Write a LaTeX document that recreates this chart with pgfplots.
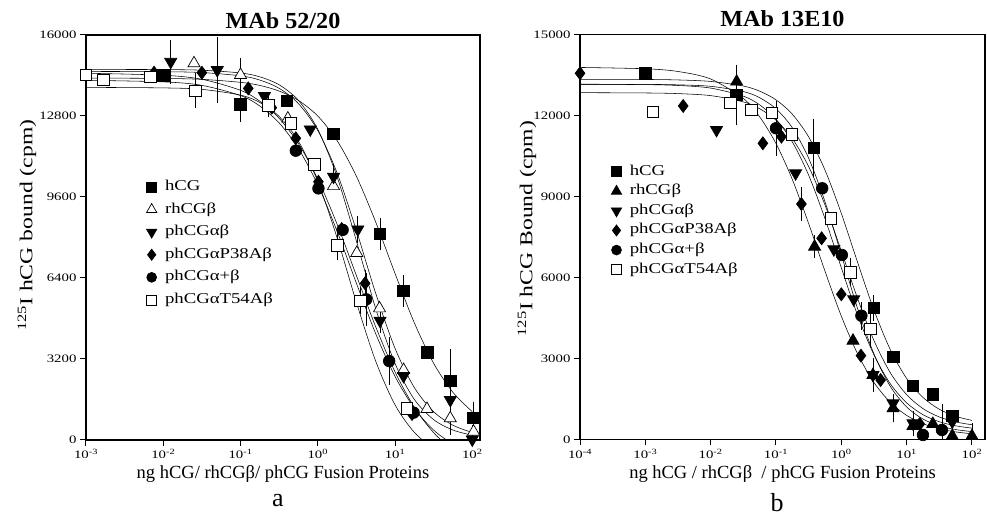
\documentclass[border=0pt]{standalone}
\usepackage{pgfplots}
\pgfplotsset{compat=1.18}
\usepackage{fontspec}
\setmainfont{Liberation Serif}
\newfontfamily\wf{Liberation Serif}[FakeStretch=1.3]
\newfontfamily\lf{Liberation Serif}[FakeStretch=1.25]
\newfontfamily\tf{Liberation Serif}[FakeStretch=1.05]
\newcommand\tl[1]{\mbox{\fontsize{11.4}{12}\wf #1}}

\pgfplotsset{
  myfit/.style={black, line width=0.55pt, smooth, no markers, forget plot},
  mypt/.style={only marks, black, line width=0.7pt,
    error bars/y dir=both, error bars/y explicit,
    error bars/error bar style={line width=0.8pt, black},
    error bars/error mark options={mark size=6pt, line width=0.8pt, black},
    legend image code/.code={\path (-5pt,0pt) (12pt,0pt);
      \draw[##1, every mark/.append style={scale=0.85}] plot coordinates {(0pt,0pt)};}},
  mysq/.style={mark=square*, mark size=5.8pt, mark options={fill=black}},
  myosq/.style={mark=square*, mark size=5.8pt, mark options={fill=white}},
  mytri/.style={mark=triangle*, mark size=7pt, mark options={fill=black}},
  myotri/.style={mark=triangle*, mark size=7pt, mark options={fill=white}},
  mydtri/.style={mark=triangle*, mark size=7pt, mark options={fill=black, rotate=180}},
  mydia/.style={mark=diamond*, mark size=6.5pt, mark options={fill=black}},
  mycirc/.style={mark=*, mark size=5.8pt, mark options={fill=black}},
}

\begin{document}
\begin{tikzpicture}
\path (0,0) rectangle (987pt,518pt);

% ---- panel a
\begin{axis}[scale only axis, xmode=log, ymin=0, scaled y ticks=false,
  tick align=outside, xtick pos=bottom, ytick pos=left,
  major tick length=6pt, xminorticks=false, yminorticks=false,
  axis line style={line width=1.1pt},
  major tick style={line width=1pt, black},
  title style={font=\fontsize{23}{24}\tf\bfseries, yshift=-3pt},
  xlabel style={font=\fontsize{18.5}{20}\selectfont},
  ylabel style={font=\fontsize{18.2}{20}\wf, at={(axis description cs:-0.15,0.53)}, anchor=center},
  legend style={draw=none, fill=none, font=\fontsize{15}{16}\lf, row sep=6.6pt,
    nodes={text height=10.5pt, text depth=3.5pt, inner sep=1pt},
    at={(0.145,0.65)}, anchor=north west},
  legend cell align=left,
  at={(86pt,78pt)}, anchor=south west, width=394pt, height=405pt,
  xmin=0.001, xmax=125.9, ymax=16000,
  xtick={0.001,0.01,0.1,1,10,100},
  xticklabels={\tl{10\textsuperscript{-3}},\tl{10\textsuperscript{-2}},\tl{10\textsuperscript{-1}},\tl{10\textsuperscript{0}},\tl{10\textsuperscript{1}},\tl{10\textsuperscript{2}}},
  ytick={0,3200,6400,9600,12800,16000},
  yticklabels={\tl{0},\tl{3200},\tl{6400},\tl{9600},\tl{12800},\tl{16000}},
  title={MAb 52/20},
  xlabel={ng hCG/ rhCGβ/ phCG Fusion Proteins},
  ylabel={\textsuperscript{125}I hCG bound (cpm)}]

\addplot[myfit] coordinates {(0.001,14300) (0.01,14283) (0.0316,14247) (0.1,14130) (0.178,14007) (0.316,13785) (0.562,13415) (1,12800) (1.778,11830) (3.162,10420) (5.623,8610) (10,6580) (17.78,4630) (31.62,3030) (56.23,1880) (100,1120)};
\addplot[myfit] coordinates {(0.001,14640) (0.01,14633) (0.0316,14608) (0.1,14500) (0.178,14347) (0.316,14034) (0.562,13416) (1,12274) (1.778,10402) (3.162,7866) (5.623,5191) (10,3021) (17.78,1604) (31.62,805) (56.23,392) (100,188)};
\addplot[myfit] coordinates {(0.001,14560) (0.01,14549) (0.0316,14516) (0.1,14387) (0.178,14219) (0.316,13895) (0.562,13290) (1,12230) (1.778,10550) (3.162,8279) (5.623,5792) (10,3622) (17.78,2072) (31.62,1118) (56.23,583) (100,298)};
\addplot[myfit] coordinates {(0.001,14489) (0.01,14410) (0.0316,14250) (0.1,13815) (0.178,13383) (0.316,12711) (0.562,11710) (1,10310) (1.778,8527) (3.162,6500) (5.623,4473) (10,2690) (17.78,1292) (31.62,289) (56.23,-385) (100,-816)};
\addplot[myfit] coordinates {(0.001,14210) (0.01,14148) (0.0316,14010) (0.1,13607) (0.178,13193) (0.316,12526) (0.562,11514) (1,10080) (1.778,8248) (3.162,6195) (5.623,4199) (10,2514) (17.78,1254) (31.62,391) (56.23,-163) (100,-570)};
\addplot[myfit] coordinates {(0.001,13930) (0.01,13910) (0.0316,13852) (0.1,13624) (0.178,13333) (0.316,12783) (0.562,11804) (1,10216) (1.778,7989) (3.162,5441) (5.623,3113) (10,1389) (17.78,302) (31.62,-318) (56.23,-650)};

\addplot[mypt, mysq] coordinates {(0.001,14420) (0.01,14400) (0.026,13800) +- (0,450) (0.1,13270) +- (0,470) (0.4,13400) (1.6,12090) (6.4,8137) +- (0,380) (12.9,5885) +- (0,395) (26,3464) (52,2343) +- (0,1000) (104,881) +- (0,400)};
\addlegendentry{hCG}
\addplot[mypt, myotri] coordinates {(0.025,14880) (0.1,14420) +- (0,430) (0.41,12700) (1.6,10030) (3.2,7390) (6.3,5200) (12.9,2765) (25.9,1225) (51.9,857) +- (0,420) (104,328)};
\addlegendentry{rhCGβ}
\addplot[mypt, mydtri] coordinates {(0.0125,14940) +- (0,630) (0.05,14615) +- (0,1070) (0.204,13590) (0.8,12270) (1.6,10400) +- (0,250) (3.3,8320) +- (0,300) (6.4,4713) +- (0,250) (12.9,2528) (52,1580) +- (0,300) (100,20) +- (0,350)};
\addlegendentry{phCGαβ}
\addplot[mypt, mydia] coordinates {(0.001,14420) (0.0076,14510) (0.0316,14510) (0.126,13890) (0.254,13130) (0.52,11920) (1.02,10200) (2.04,8335) (4.1,6190) +- (0,300) (16.6,1027)};
\addlegendentry{phCGαP38Aβ}
\addplot[mypt, mycirc] coordinates {(0.52,11430) (1.02,9940) (2.1,8300) (4.24,5557) +- (0,800) (8.4,3120) +- (0,700) (17.4,1080)};
\addlegendentry{phCGα+β}
\addplot[mypt, myosq] coordinates {(0.001,14420) (0.00168,14220) (0.0068,14350) (0.026,13800) (0.23,13230) +- (0,250) (0.45,12510) (0.9,10900) (1.8,7700) +- (0,360) (3.55,5500) +- (0,300) (14.3,1250)};
\addlegendentry{phCGαT54Aβ}
\end{axis}

% ---- panel b
\begin{axis}[scale only axis, xmode=log, ymin=0, scaled y ticks=false,
  tick align=outside, xtick pos=bottom, ytick pos=left,
  major tick length=6pt, xminorticks=false, yminorticks=false,
  axis line style={line width=1.1pt},
  major tick style={line width=1pt, black},
  title style={font=\fontsize{23}{24}\tf\bfseries, yshift=-2pt},
  xlabel style={font=\fontsize{18.5}{20}\selectfont},
  ylabel style={font=\fontsize{18.2}{20}\wf, at={(axis description cs:-0.131,0.52)}, anchor=center},
  legend style={draw=none, fill=none, font=\fontsize{15}{16}\lf, row sep=3.6pt,
    nodes={text height=10.5pt, text depth=3.5pt, inner sep=1pt},
    at={(0.069,0.686)}, anchor=north west},
  legend cell align=left,
  at={(580pt,78.7pt)}, anchor=south west, width=405pt, height=405pt,
  xmin=0.0001, xmax=158.5, ymax=15000,
  xtick={0.0001,0.001,0.01,0.1,1,10,100},
  xticklabels={\tl{10\textsuperscript{-4}},\tl{10\textsuperscript{-3}},\tl{10\textsuperscript{-2}},\tl{10\textsuperscript{-1}},\tl{10\textsuperscript{0}},\tl{10\textsuperscript{1}},\tl{10\textsuperscript{2}}},
  ytick={0,3000,6000,9000,12000,15000},
  yticklabels={\tl{0},\tl{3000},\tl{6000},\tl{9000},\tl{12000},\tl{15000}},
  title={MAb 13E10},
  xlabel={ng hCG / rhCGβ\ \ / phCG Fusion Proteins},
  ylabel={\textsuperscript{125}I hCG Bound (cpm)}]

\addplot[myfit] coordinates {(0.0001,13772) (0.001,13723) (0.00316,13622) (0.01,13345) (0.0316,12623) (0.0562,11945) (0.1,10955) (0.178,9622) (0.316,7994) (0.562,6232) (1,4563) (1.778,3163) (3.162,2105) (5.623,1370) (10,885) (17.78,579) (31.62,390) (56.23,274) (100,204)};
\addplot[myfit] coordinates {(0.0001,13334) (0.001,13327) (0.00316,13309) (0.01,13254) (0.0316,13083) (0.0562,12895) (0.1,12573) (0.178,12040) (0.316,11201) (0.562,9974) (1,8369) (1.778,6549) (3.162,4786) (5.623,3322) (10,2256) (17.78,1550) (31.62,1113) (56.23,852) (100,700)};
\addplot[myfit] coordinates {(0.0001,13150) (0.001,13144) (0.00316,13128) (0.01,13073) (0.0316,12880) (0.0562,12651) (0.1,12241) (0.178,11538) (0.316,10413) (0.562,8805) (1,6839) (1.778,4840) (3.162,3162) (5.623,1961) (10,1198) (17.78,750) (31.62,498) (56.23,360) (100,285)};
\addplot[myfit] coordinates {(0.0001,13149) (0.001,13136) (0.00316,13104) (0.01,13008) (0.0316,12709) (0.0562,12387) (0.1,11853) (0.178,11013) (0.316,9785) (0.562,8178) (1,6356) (1.778,4591) (3.162,3126) (5.623,2058) (10,1351) (17.78,913) (31.62,652) (56.23,500) (100,413)};
\addplot[myfit] coordinates {(0.0001,12838) (0.001,12827) (0.00316,12803) (0.01,12729) (0.0316,12497) (0.0562,12245) (0.1,11821) (0.178,11137) (0.316,10103) (0.562,8685) (1,6976) (1.778,5211) (3.162,3658) (5.623,2468) (10,1655) (17.78,1138) (31.62,827) (56.23,644) (100,538)};

\addplot[mypt, mysq] coordinates {(0.001,13557) (0.025,12750) (0.38,10800) +- (0,850) (3.13,4875) +- (0,260) (6.2,3060) (12.5,1975) (25.2,1666) (50,863)};
\addlegendentry{hCG}
\addplot[mypt, mytri] coordinates {(0.025,13246) +- (0,250) (0.39,7134) +- (0,200) (1.51,3652) (3.05,2380) +- (0,400) (6.2,1148) +- (0,300) (12.5,493) (25.2,567) (50,122) (100,122) +- (0,250)};
\addlegendentry{rhCGβ}
\addplot[mypt, mydtri] coordinates {(0.0123,11457) (0.2,9852) (0.77,7037) (1.55,5186) (3.05,2380) (6.2,1333) (12.5,593) +- (0,250) (50,652)};
\addlegendentry{phCGαβ}
\addplot[mypt, mydia] coordinates {(0.0001,13557) (0.0038,12345) (0.063,10964) (0.121,11208) (0.245,8715) +- (0,400) (0.5,7445) (1,5370) (2,3097) (4,2196) (15.9,567)};
\addlegendentry{phCGαP38Aβ}
\addplot[mypt, mycirc] coordinates {(0.025,12753) +- (0,900) (0.1,11519) +- (0,800) (0.51,9297) (1.02,6826) (2.03,4578) +- (0,300) (17.8,160) (34.7,344) +- (0,740)};
\addlegendentry{phCGα+β}
\addplot[mypt, myosq] coordinates {(0.00131,12134) (0.02,12468) (0.042,12197) (0.087,12097) (0.176,11297) (0.69,8186) (1.39,6186) +- (0,300) (2.79,4085) +- (0,450)};
\addlegendentry{phCGαT54Aβ}
\end{axis}

\node[font=\fontsize{26}{28}\selectfont] at (278pt,17pt) {a};
\node[font=\fontsize{26}{28}\selectfont] at (777pt,15pt) {b};
\end{tikzpicture}
\end{document}
